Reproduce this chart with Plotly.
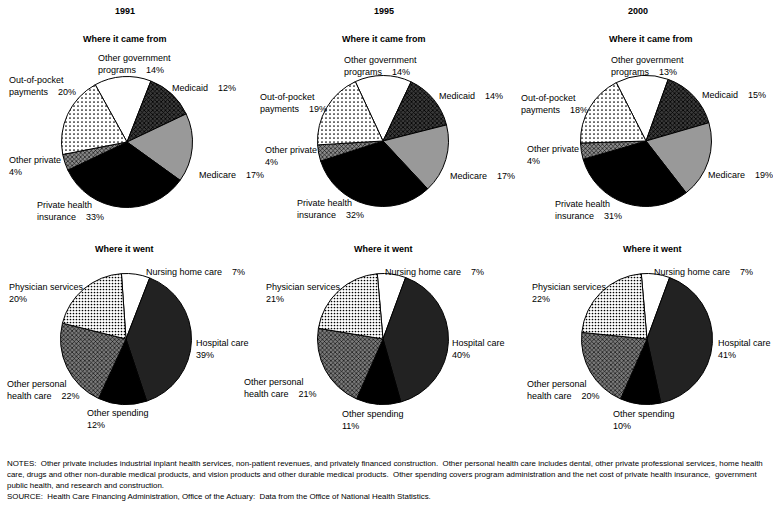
import plotly.graph_objects as go

W, H = 773, 507

years = ["1991", "1995", "2000"]

# Where it came from
source_categories = ["Other government programs", "Medicaid", "Medicare",
                     "Private health insurance", "Other private", "Out-of-pocket payments"]
source_1991 = [14, 12, 17, 33, 4, 20]
source_1995 = [14, 14, 17, 32, 4, 19]
source_2000 = [13, 15, 19, 31, 4, 18]

# Where it went
use_categories = ["Nursing home care", "Hospital care", "Other spending",
                  "Other personal health care", "Physician services"]
use_1991 = [7, 39, 12, 22, 20]
use_1995 = [7, 40, 11, 21, 21]
use_2000 = [7, 41, 10, 20, 22]

source_values = [source_1991, source_1995, source_2000]
use_values = [use_1991, use_1995, use_2000]

NB = "\u00a0"
SP = NB * 4

source_label_fmt = {
    "Other government programs": "Other government<br>programs" + SP + "{}%",
    "Medicaid": "Medicaid" + SP + "{}%",
    "Medicare": "Medicare" + SP + "{}%",
    "Private health insurance": "Private health<br>insurance" + SP + "{}%",
    "Other private": "Other private<br>{}%",
    "Out-of-pocket payments": "Out-of-pocket<br>payments" + SP + "{}%",
}
use_label_fmt = {
    "Nursing home care": "Nursing home care" + SP + "{}%",
    "Hospital care": "Hospital care<br>{}%",
    "Other spending": "Other spending<br>{}%",
    "Other personal health care": "Other personal<br>health care" + SP + "{}%",
    "Physician services": "Physician services<br>{}%",
}

# ---- layout / style (pixel positions) ----
R = 65.5
src_centers = [(127, 142), (383, 141), (646, 141)]
use_centers = [(126, 339), (383, 339), (647, 339)]
src_rot = [-29, -25, -27]
use_rot = [-4, -5, -5]

src_label_pos = [
    [(96, 57), (170, 87), (197, 174), (35, 204), (7, 159), (7, 79)],
    [(342, 59), (437, 95), (448, 175), (295, 202), (263, 149), (258, 96)],
    [(609, 59), (700, 94), (706, 174), (553, 203), (525, 148), (519, 97)],
]
use_label_pos = [
    [(144, 271), (194, 342), (85, 412), (5, 383), (7, 286)],
    [(383, 271), (450, 342), (340, 413), (242, 381), (264, 286)],
    [(652, 271), (716, 342), (611, 413), (525, 383), (530, 286)],
]
year_x = [125, 384, 638]
src_title_x = [125, 384, 651]
use_title_x = [124, 383, 652]

src_pattern = dict(
    shape=["", "x", ".", "", "x", "."],
    bgcolor=["white", "#3a3a3a", "white", "black", "#8a8a8a", "white"],
    fgcolor=["white", "black", "black", "black", "black", "black"],
    size=[4, 3, 2, 4, 3, 4],
    solidity=[0.3, 0.45, 0.45, 0.3, 0.35, 0.15],
)
use_pattern = dict(
    shape=["", ".", "", "x", "."],
    bgcolor=["white", "#3c3c3c", "black", "#7a7a7a", "white"],
    fgcolor=["white", "black", "black", "black", "black"],
    size=[4, 2, 4, 3, 3],
    solidity=[0.3, 0.5, 0.3, 0.35, 0.25],
)

FONT = "Liberation Sans, Arial, sans-serif"


def px(x):
    return x / W


def py(y):
    return 1 - y / H


def domain(c):
    cx, cy = c
    return dict(x=[px(cx - R), px(cx + R)], y=[py(cy + R), py(cy - R)])


fig = go.Figure()
annotations = []

for i in range(3):
    fig.add_trace(go.Pie(
        labels=source_categories, values=source_values[i], sort=False,
        direction="clockwise", rotation=src_rot[i], domain=domain(src_centers[i]),
        textinfo="none", hoverinfo="label+value", showlegend=False,
        marker=dict(colors=src_pattern["bgcolor"], line=dict(color="black", width=1),
                    pattern=dict(src_pattern, fillmode="replace")),
    ))
    fig.add_trace(go.Pie(
        labels=use_categories, values=use_values[i], sort=False,
        direction="clockwise", rotation=use_rot[i], domain=domain(use_centers[i]),
        textinfo="none", hoverinfo="label+value", showlegend=False,
        marker=dict(colors=use_pattern["bgcolor"], line=dict(color="black", width=1),
                    pattern=dict(use_pattern, fillmode="replace")),
    ))
    annotations.append(dict(x=px(year_x[i]), y=py(11), text="<b>" + years[i] + "</b>",
                            xanchor="center", yanchor="middle", font=dict(size=9)))
    annotations.append(dict(x=px(src_title_x[i]), y=py(39), text="<b>Where it came from</b>",
                            xanchor="center", yanchor="middle", font=dict(size=9)))
    annotations.append(dict(x=px(use_title_x[i]), y=py(249), text="<b>Where it went</b>",
                            xanchor="center", yanchor="middle", font=dict(size=9)))
    for cat, v, (lx, ly) in zip(source_categories, source_values[i], src_label_pos[i]):
        annotations.append(dict(x=px(lx), y=py(ly - 6), text=source_label_fmt[cat].format(v),
                                xanchor="left", yanchor="top", align="left",
                                font=dict(size=9)))
    for cat, v, (lx, ly) in zip(use_categories, use_values[i], use_label_pos[i]):
        annotations.append(dict(x=px(lx), y=py(ly - 6), text=use_label_fmt[cat].format(v),
                                xanchor="left", yanchor="top", align="left",
                                font=dict(size=9)))

notes = [
    "NOTES:  Other private includes industrial inplant health services, non-patient revenues, and privately financed construction.  Other personal health care includes dental, other private professional services, home health",
    "care, drugs and other non-durable medical products, and vision products and other durable medical products.  Other spending covers program administration and the net cost of private health insurance,  government",
    "public health, and research and construction.",
    "SOURCE:  Health Care Financing Administration, Office of the Actuary:  Data from the Office of National Health Statistics.",
]
note_y = [463, 474, 485, 496]
for t, y in zip(notes, note_y):
    annotations.append(dict(x=px(5), y=py(y), text=t.replace("  ", NB + " "),
                            xanchor="left", yanchor="middle", align="left",
                            font=dict(size=7.9)))

for a in annotations:
    a.update(xref="paper", yref="paper", showarrow=False)
    a["font"].update(family=FONT, color="black")

fig.update_layout(
    width=W, height=H, margin=dict(l=0, r=0, t=0, b=0),
    paper_bgcolor="white", plot_bgcolor="white",
    annotations=annotations, font=dict(family=FONT, color="black"),
)

fig.write_html("out.html", config={"displayModeBar": False},
               post_script="document.body.style.margin='0';document.body.style.padding='0';")
